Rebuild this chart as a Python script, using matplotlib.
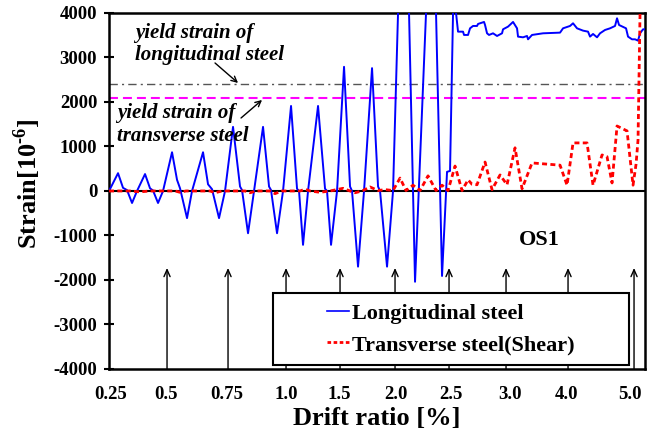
import matplotlib
matplotlib.use("Agg")
import matplotlib.pyplot as plt
from matplotlib.lines import Line2D
from matplotlib.patches import Rectangle

plt.rcParams['font.family'] = ['Liberation Serif', 'DejaVu Serif']
plt.rcParams['font.weight'] = 'bold'
plt.rcParams['axes.unicode_minus'] = False
plt.rcParams['mathtext.fontset'] = 'custom'
plt.rcParams['mathtext.rm'] = 'Liberation Serif:bold'
plt.rcParams['mathtext.bf'] = 'Liberation Serif:bold'

# load step (horizontal position) and strain readings, longitudinal steel
long_step = [0, 9, 14, 18, 23, 28, 36, 41, 44, 49, 54, 63, 68, 71, 78, 83,
             94, 99, 103, 110, 116, 124, 131, 133, 139, 145, 154, 160, 162, 168, 174,
             182, 188, 190, 194, 199, 209, 216, 218, 222, 228, 235, 241, 243, 249, 255,
             263, 269, 271, 278, 284, 289, 294, 300, 306, 317, 322, 327, 333,
             338, 341, 344, 346, 347, 349, 354, 355, 359, 361, 364, 368, 369, 375,
             376, 378, 380, 384, 388, 393, 394, 399, 404, 408, 409, 414, 418, 419,
             423, 434, 451, 454, 461, 464, 468, 474, 479, 481, 484, 488, 491, 496,
             501, 506, 508, 510, 517, 519, 523, 526, 529, 531, 534, 537]
long_strain = [0, 400, 70, 20, -270, 0, 380, 60, 10, -270, 0, 870, 250, 60, -610, 0,
               870, 150, 40, -610, 0, 1440, 100, 20, -950, 0, 1440, 100, 20, -950, 0,
               1910, 50, 0, -1210, 0, 1910, 50, 0, -1210, 0, 2790, 100, 0, -1700, 0,
               2760, 100, 0, -1700, 0, 4000, 4800, 4000, -2040, 4000, 4800, 4000, -1910,
               430, 450, 4000, 4600, 4000, 3580, 3580, 3506, 3506, 3655, 3708, 3708, 3753, 3798,
               3730, 3543, 3506, 3543, 3483, 3543, 3633, 3693, 3798, 3655, 3468, 3453, 3483, 3408,
               3506, 3543, 3558, 3655, 3708, 3768, 3655, 3603, 3580, 3468, 3528, 3453,
               3543, 3618, 3655, 3708, 3880, 3730, 3655, 3468, 3408, 3408, 3378, 3543, 3633, 3633]

# transverse steel (shear)
trans_step = [0, 21, 31, 41, 66, 71, 77, 101, 106, 113, 136, 141, 147, 161, 166, 173,
              191, 196, 201, 211, 221, 234, 241, 246, 253, 261, 269, 276, 284, 291, 297,
              304, 311, 319, 327, 333, 339, 346, 353, 359, 363, 368, 376, 383, 391, 398,
              406, 413, 423, 451, 458, 464, 478, 484, 493, 498, 503, 508, 518, 524, 527,
              529, 531, 533]
trans_strain = [0, 0, -20, 0, 0, -30, 0, 0, -40, 0, 0, -40, 0, 0, -60, 0,
                0, 40, 0, -30, 0, 60, 0, -40, 0, 90, 10, 30, 10, 290, 10,
                130, 10, 340, 10, 130, 10, 560, 10, 250, 150, 140, 650, 30, 360, 140,
                970, 50, 630, 580, 130, 1080, 1080, 130, 810, 770, 180, 1460, 1350, 130, 600,
                1150, 4000, 5000]

yield_long = 2400
yield_trans = 2100

drift_ticks = [2, 57, 118, 177, 230, 287, 342, 401, 457, 521]
drift_labels = ['0.25', '0.5', '0.75', '1.0', '1.5', '2.0', '2.5', '3.0', '4.0', '5.0']
arrow_steps = [58, 119, 177, 231, 286, 340, 397, 459, 525]
arrow_top = -1730

fig = plt.figure(figsize=(6.58, 4.41), dpi=100)
ax = fig.add_axes([0.1657, 0.1633, 0.8146, 0.8073])

ax.axhline(yield_long, color='#555555', lw=1, dashes=(6, 3, 1.5, 3), zorder=2)
ax.axhline(yield_trans, color='#ff00ff', lw=1.5, dashes=(4.3, 2.4), zorder=2)
ax.axhline(0, color='black', lw=1.5, zorder=2)

ax.plot(long_step, long_strain, color='#0000ff', lw=1.4, zorder=3)
ax.plot(trans_step, trans_strain, color='#ff0000', lw=2, dashes=(1.8, 1.2), zorder=4)

# drift-level arrows
for s in arrow_steps:
    ax.annotate('', xy=(s, arrow_top), xytext=(s, -4000),
                arrowprops=dict(arrowstyle='->,head_length=0.5,head_width=0.22',
                                color='black', lw=1, shrinkA=0, shrinkB=0),
                zorder=2)

# legend box
ax.add_patch(Rectangle((0.306, 0.011), 0.664, 0.202, transform=ax.transAxes,
                       facecolor='white', edgecolor='black', lw=1.5, zorder=5))
handles = [Line2D([], [], color='#0000ff', lw=1.2),
           Line2D([], [], color='#ff0000', lw=2, dashes=(1.3, 0.9))]
ax.legend(handles, ['Longitudinal steel', 'Transverse steel(Shear)'],
          loc='center', bbox_to_anchor=(0.638, 0.112), frameon=False,
          prop={'family': 'Liberation Serif', 'weight': 'bold', 'size': 16},
          handlelength=0.95, handletextpad=0.15, labelspacing=0.5).set_zorder(6)

ax.text(26, 3300, 'yield strain of\nlongitudinal steel', fontsize=15,
        style='italic', fontweight='bold', va='center', ha='left', linespacing=1.15)
ax.annotate('', xy=(129, 2427), xytext=(106, 2876),
            arrowprops=dict(arrowstyle='->', color='black', lw=1, shrinkA=0, shrinkB=0))
ax.text(8, 1483, 'yield strain of\ntransverse steel', fontsize=15,
        style='italic', fontweight='bold', va='center', ha='left', linespacing=1.2)
ax.annotate('', xy=(153, 2045), xytext=(132, 1640),
            arrowprops=dict(arrowstyle='->', color='black', lw=1, shrinkA=0, shrinkB=0))

ax.text(430, -1100, 'OS1', fontsize=16, fontweight='bold', ha='center', va='center')

ax.set_xlim(0, 536)
ax.set_ylim(-4000, 4000)
ax.set_yticks(range(-4000, 4001, 1000))
ax.set_xticks(drift_ticks)
ax.set_xticklabels(drift_labels)
ax.tick_params(axis='x', length=0, pad=12, labelsize=13.5)
ax.tick_params(axis='y', direction='inout', length=7, width=1.5, pad=5, labelsize=13.5)
for sp in ax.spines.values():
    sp.set_linewidth(1.8)

ax.set_xlabel('Drift ratio [%]', fontsize=19, fontweight='bold', labelpad=3)
ax.set_ylabel('Strain[10$^{\u2010 6}$]', fontsize=19, fontweight='bold')
ax.yaxis.set_label_coords(-0.124, 0.52)

fig.savefig('out.png', dpi=100)
